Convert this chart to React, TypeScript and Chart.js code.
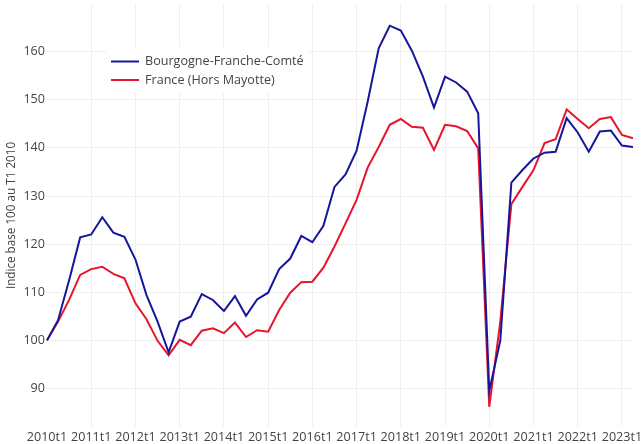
import React, { useEffect, useRef } from "react";
import { Chart, registerables } from "chart.js";

Chart.register(...registerables);

const years = [2010, 2011, 2012, 2013, 2014, 2015, 2016, 2017, 2018, 2019, 2020, 2021, 2022, 2023];
const quarters = ["t1", "t2", "t3", "t4"];
const categories: string[] = [];
years.forEach((y) => quarters.forEach((q) => categories.push(`${y}${q}`)));
categories.splice(54);

const bfcValues = [
  100, 104.2, 112.5, 121.4, 122.0, 125.6, 122.4, 121.5, 116.8, 109.4, 103.9, 97.5,
  103.9, 104.9, 109.6, 108.4, 106.1, 109.2, 105.1, 108.5, 109.9, 114.8, 117.0, 121.7,
  120.4, 123.8, 131.9, 134.5, 139.4, 149.6, 160.7, 165.4, 164.4, 160.2, 154.8, 148.4,
  154.8, 153.6, 151.7, 147.2, 89.5, 100.0, 132.8, 135.4, 137.8, 139.0, 139.2, 146.2,
  143.2, 139.2, 143.4, 143.6, 140.5, 140.2,
];

const franceValues = [
  100, 103.9, 108.4, 113.6, 114.8, 115.3, 113.8, 112.9, 107.7, 104.4, 99.9, 96.9,
  100.1, 99.0, 102.0, 102.5, 101.5, 103.7, 100.7, 102.1, 101.8, 106.3, 109.9, 112.1,
  112.2, 115.1, 119.5, 124.3, 129.2, 135.9, 140.2, 144.8, 146.0, 144.4, 144.2, 139.6,
  144.8, 144.5, 143.5, 139.9, 86.2, 104.0, 128.3, 131.9, 135.4, 141.0, 141.8, 148.0,
  146.0, 144.1, 146.0, 146.4, 142.7, 142.0,
];

const seriesNames = ["Bourgogne-Franche-Comté", "France (Hors Mayotte)"];
const seriesColors = ["#16169a", "#e6142c"];
const yTitle = "Indice base 100 au T1 2010";

const FONT = "'Open Sans', 'DejaVu Sans', sans-serif";
const TEXT = "#444";

const overlay = {
  id: "overlay",
  afterDraw(chart: any) {
    const ctx = chart.ctx;
    const area = chart.chartArea;
    ctx.save();
    ctx.translate(12, (area.top + area.bottom) / 2);
    ctx.rotate(-Math.PI / 2);
    ctx.fillStyle = TEXT;
    ctx.font = `11.7px ${FONT}`;
    ctx.textAlign = "center";
    ctx.textBaseline = "middle";
    ctx.fillText(yTitle, 0, 0);
    ctx.restore();

    ctx.save();
    ctx.fillStyle = "#ffffff";
    ctx.fillRect(106, 47, 203, 47);
    chart.data.datasets.forEach((ds: any, i: number) => {
      const y = 61.5 + i * 18.5;
      ctx.strokeStyle = ds.borderColor;
      ctx.lineWidth = 2;
      ctx.beginPath();
      ctx.moveTo(111, y);
      ctx.lineTo(139, y);
      ctx.stroke();
      ctx.fillStyle = TEXT;
      ctx.font = `12.6px ${FONT}`;
      ctx.textAlign = "left";
      ctx.textBaseline = "middle";
      ctx.fillText(ds.label, 145, y);
    });
    ctx.restore();
  },
};

export default function App() {
  const ref = useRef<HTMLCanvasElement | null>(null);
  useEffect(() => {
    if (!ref.current) return;
    const chart = new Chart(ref.current, {
      type: "line",
      data: {
        labels: categories,
        datasets: [
          {
            label: seriesNames[0],
            data: bfcValues,
            borderColor: seriesColors[0],
            backgroundColor: seriesColors[0],
            borderWidth: 2,
            pointRadius: 0,
            tension: 0,
          },
          {
            label: seriesNames[1],
            data: franceValues,
            borderColor: seriesColors[1],
            backgroundColor: seriesColors[1],
            borderWidth: 2,
            pointRadius: 0,
            tension: 0,
          },
        ],
      },
      options: {
        animation: false,
        responsive: false,
        devicePixelRatio: 1,
        layout: { padding: { top: 5, right: 9, left: 0, bottom: 0 } },
        plugins: {
          legend: { display: false },
          tooltip: { enabled: false },
        },
        scales: {
          x: {
            type: "category",
            offset: false,
            border: { display: false },
            grid: {
              drawTicks: false,
              color: (c: any) => (c.index > 0 && c.index % 4 === 0 ? "#eeeeee" : "rgba(0,0,0,0)"),
              lineWidth: 1,
            },
            ticks: {
              autoSkip: false,
              maxRotation: 0,
              minRotation: 0,
              padding: 4,
              color: TEXT,
              font: { family: FONT, size: 12.6 },
              callback: (_v: any, i: number) => (categories[i].endsWith("t1") ? categories[i] : ""),
            },
            afterFit: (s: any) => {
              s.height = 18;
              s.paddingLeft = 0;
              s.paddingRight = 0;
            },
          },
          y: {
            min: 82.2,
            max: 169.7,
            border: { display: false },
            grid: { drawTicks: false, color: "#eeeeee", lineWidth: 1 },
            ticks: {
              stepSize: 10,
              includeBounds: false,
              padding: 2,
              color: TEXT,
              font: { family: FONT, size: 12.6 },
            },
            afterFit: (s: any) => {
              s.width = 47;
              s.paddingTop = 0;
              s.paddingBottom = 0;
            },
          },
        },
      },
      plugins: [overlay],
    });
    return () => chart.destroy();
  }, []);
  return (
    <div style={{ position: "fixed", left: 0, top: 0, width: 642, height: 444, background: "#fff" }}>
      <canvas ref={ref} width={642} height={444} />
    </div>
  );
}
